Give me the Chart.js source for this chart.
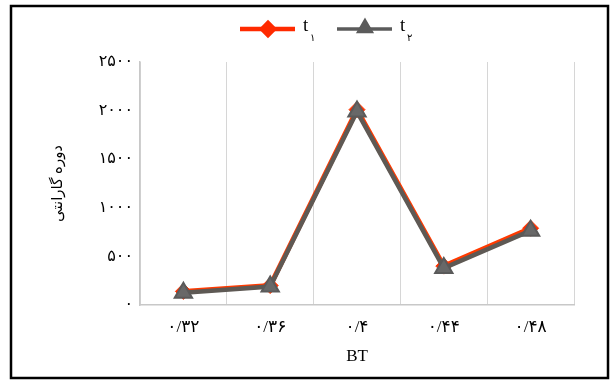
<!DOCTYPE html>
<html>
<head>
<meta charset="utf-8">
<script src="https://cdn.jsdelivr.net/npm/chart.js@4"></script>
<style>
  html, body { margin: 0; padding: 0; background: #fff; }
  #wrap { width: 612px; height: 383px; }
</style>
</head>
<body>
<div id="wrap"><canvas id="chartBT"></canvas></div>
<script>
// BT categories and warranty period per series
const categories = ['۰/۳۲', '۰/۳۶', '۰/۴', '۰/۴۴', '۰/۴۸'];
const seriesT1 = [140, 200, 2010, 400, 790];
const seriesT2 = [125, 190, 1990, 380, 765];
const yTickLabels = ['۰', '۵۰۰', '۱۰۰۰', '۱۵۰۰', '۲۰۰۰', '۲۵۰۰'];
const legendItems = [
  { main: 't', sub: '۱', color: '#ff2a00', style: 'rectRot' },
  { main: 't', sub: '۲', color: '#5b5b5b', style: 'triangle' }
];

const fontStack = "'Liberation Serif', 'DejaVu Sans', serif";

// frame round the whole chart + legend at the top
const framePlugin = {
  id: 'frameAndLegend',
  beforeDraw(chart) {
    const ctx = chart.ctx;
    ctx.save();
    ctx.fillStyle = '#fff';
    ctx.fillRect(0, 0, chart.width, chart.height);
    ctx.restore();
  },
  afterDraw(chart) {
    const ctx = chart.ctx;
    ctx.save();
    ctx.strokeStyle = '#000';
    ctx.lineWidth = 2.5;
    ctx.strokeRect(11, 6, 597, 372);

    let x = 240;
    const y = 29;
    legendItems.forEach(item => {
      ctx.strokeStyle = item.color;
      ctx.lineWidth = item.style === 'rectRot' ? 4.5 : 3.5;
      ctx.beginPath();
      ctx.moveTo(x, y);
      ctx.lineTo(x + 55, y);
      ctx.stroke();
      ctx.fillStyle = item.color;
      Chart.helpers.drawPoint(ctx, {
        pointStyle: item.style,
        radius: item.style === 'rectRot' ? 6 : 7,
        rotation: 0,
        borderWidth: 1
      }, x + 28, y - (item.style === 'triangle' ? 1 : 0));
      ctx.fillStyle = '#000';
      ctx.textBaseline = 'middle';
      ctx.textAlign = 'left';
      ctx.font = "19px " + fontStack;
      ctx.fillText(item.main, x + 63, y - 3);
      ctx.font = "10px " + fontStack;
      ctx.fillText(item.sub, x + 70, y + 9);
      x += 97;
    });
    ctx.restore();
  }
};

const ctx = document.getElementById('chartBT').getContext('2d');
new Chart(ctx, {
  type: 'line',
  data: {
    labels: categories,
    datasets: [
      {
        label: 't1',
        data: seriesT1,
        borderColor: '#ff3a00',
        backgroundColor: '#ff2a00',
        borderWidth: 5,
        pointStyle: 'rectRot',
        pointRadius: 8,
        pointBorderWidth: 1,
        order: 2
      },
      {
        label: 't2',
        data: seriesT2,
        borderColor: '#5e5954',
        backgroundColor: '#686868',
        borderWidth: 4.5,
        pointStyle: 'triangle',
        pointRadius: 10,
        pointBorderColor: '#5a5a5a',
        pointBorderWidth: 2,
        order: 1
      }
    ]
  },
  options: {
    responsive: true,
    maintainAspectRatio: false,
    animation: false,
    layout: { padding: { left: 45, right: 38, top: 62, bottom: 0 } },
    plugins: {
      legend: { display: false },
      tooltip: { enabled: false }
    },
    scales: {
      x: {
        offset: true,
        grid: { display: true, offset: true, color: '#d6d6d6', lineWidth: 1, drawTicks: false },
        border: { display: true, color: '#c8c8c8', width: 1.5 },
        ticks: { color: '#000', padding: 12, font: { family: fontStack, size: 17 } },
        title: {
          display: true,
          text: 'BT',
          color: '#000',
          font: { family: fontStack, size: 17 },
          padding: { top: 0, bottom: 16 }
        },
        afterFit(scale) { scale.height = 78; }
      },
      y: {
        min: 0,
        max: 2500,
        grid: { display: false, drawTicks: false },
        border: { display: true, color: '#c8c8c8', width: 1.5 },
        ticks: {
          stepSize: 500,
          color: '#000',
          padding: 7,
          font: { family: fontStack, size: 16 },
          callback: (value, index) => yTickLabels[index]
        },
        title: {
          display: true,
          text: 'دوره گارانتی',
          color: '#000',
          font: { family: fontStack, size: 15 },
          padding: { top: 4, bottom: 0 }
        },
        afterFit(scale) { scale.width = 95; }
      }
    }
  },
  plugins: [framePlugin]
});
</script>
</body>
</html>
